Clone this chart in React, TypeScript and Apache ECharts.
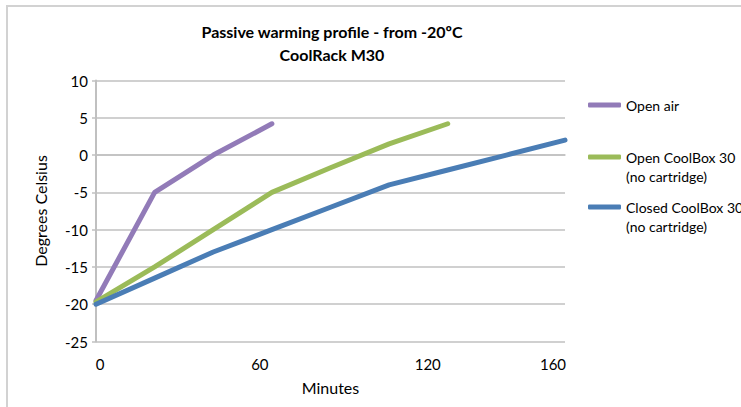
import React, { useEffect, useRef } from "react";
import * as echarts from "echarts";

const titleLines = ["Passive warming profile - from -20ºC", "CoolRack M30"];
const minutes = ["0", "20", "40", "60", "80", "100", "120", "140", "160"];
const xTickLabels = ["0", "60", "120", "160"];
const yTicks = { min: -25, max: 10, step: 5 };
const seriesNames = ["Open air", "Open CoolBox 30\n(no cartridge)", "Closed CoolBox 30\n(no cartridge)"];
const openAir = [-19.5, -5, 0, 4.2, null, null, null, null, null];
const openCoolBox = [-19.7, -15, -10, -5, -1.7, 1.5, 4.2, null, null];
const closedCoolBox = [-20, -16.5, -13, -10, -7, -4, -2, 0, 2];
const colors = ["#927bb8", "#9bbb59", "#4a7db5"];

const FONT = "Lato, 'Open Sans', sans-serif";

export default function App() {
  const ref = useRef<HTMLDivElement>(null);
  useEffect(() => {
    if (!ref.current) return;
    const chart = echarts.init(ref.current, undefined, { renderer: "svg" });
    const data = [openAir, openCoolBox, closedCoolBox];
    const legendCenters = [105, 157, 207];
    const labelShift: Record<string, number[]> = {
      "0": [0, 0, 0, 8],
      "60": [0, 24, 0, 0],
      "120": [0, 40, 0, 0],
      "160": [0, 24, 0, 0],
    };
    const rich: Record<string, any> = {};
    xTickLabels.forEach((l) => {
      rich["s" + l] = { padding: labelShift[l] || [0, 0, 0, 0], fontSize: 15, color: "#000", fontFamily: FONT };
    });
    chart.setOption({
      animation: false,
      backgroundColor: "#fff",
      title: {
        text: titleLines.join("\n"),
        left: 332,
        top: 20,
        padding: 0,
        textAlign: "center",
        textStyle: { fontFamily: FONT, fontSize: 16, fontWeight: "bold", color: "#000", lineHeight: 23 },
      },
      grid: { left: 96, right: 176, top: 80.5, bottom: 65.5 },
      legend: seriesNames.map((n, i) => {
        const multi = n.includes("\n");
        const lines = multi ? 3 : 1;
        return {
          data: [n],
          orient: "vertical",
          left: 588,
          top: legendCenters[i] - (lines * 19) / 2,
          padding: 0,
          itemWidth: 33,
          itemHeight: 5,
          itemGap: 0,
          icon: "roundRect",
          selectedMode: false,
          formatter: (name: string) => (name.includes("\n") ? " \n" + name : name),
          textStyle: { fontFamily: FONT, fontSize: 14, color: "#000", lineHeight: 19 },
        };
      }),
      xAxis: {
        type: "category",
        data: minutes,
        boundaryGap: false,
        name: "Minutes",
        nameLocation: "middle",
        nameGap: 38,
        nameTextStyle: { fontFamily: FONT, fontSize: 16, color: "#000" },
        axisLine: { show: true, lineStyle: { color: "#c0c0c0", width: 1.5 } },
        axisTick: { show: false },
        axisLabel: {
          interval: (_i: number, v: string) => xTickLabels.includes(v),
          margin: 15,
          formatter: (v: string) => `{s${v}|${v}}`,
          rich,
        },
        splitLine: { show: false },
      },
      yAxis: {
        type: "value",
        min: yTicks.min,
        max: yTicks.max,
        interval: yTicks.step,
        name: "Degrees Celsius",
        nameLocation: "middle",
        nameGap: 48,
        nameTextStyle: { fontFamily: FONT, fontSize: 16, color: "#000" },
        axisLine: { show: true, lineStyle: { color: "#c0c0c0", width: 2 } },
        axisTick: { show: true, length: 4, lineStyle: { color: "#c0c0c0", width: 1.5 } },
        axisLabel: { fontFamily: FONT, fontSize: 15, color: "#000", margin: 8 },
        splitLine: { show: true, lineStyle: { color: "#c0c0c0", width: 1.5 } },
      },
      graphic: [
        {
          type: "polyline",
          shape: { points: [[7, 407], [7, 6], [741, 6]] },
          style: { stroke: "#d2d2d2", lineWidth: 2, fill: "none" },
          silent: true,
        },
      ],
      series: seriesNames.map((n, i) => ({
        name: n,
        type: "line",
        data: data[i],
        showSymbol: false,
        connectNulls: false,
        color: colors[i],
        lineStyle: { width: 5, color: colors[i], cap: "round", join: "round" },
        z: 3 + i,
      })),
    });
    return () => chart.dispose();
  }, []);
  return (
    <div
      ref={ref}
      style={{ position: "fixed", left: 0, top: 0, width: 741, height: 407 }}
    />
  );
}
